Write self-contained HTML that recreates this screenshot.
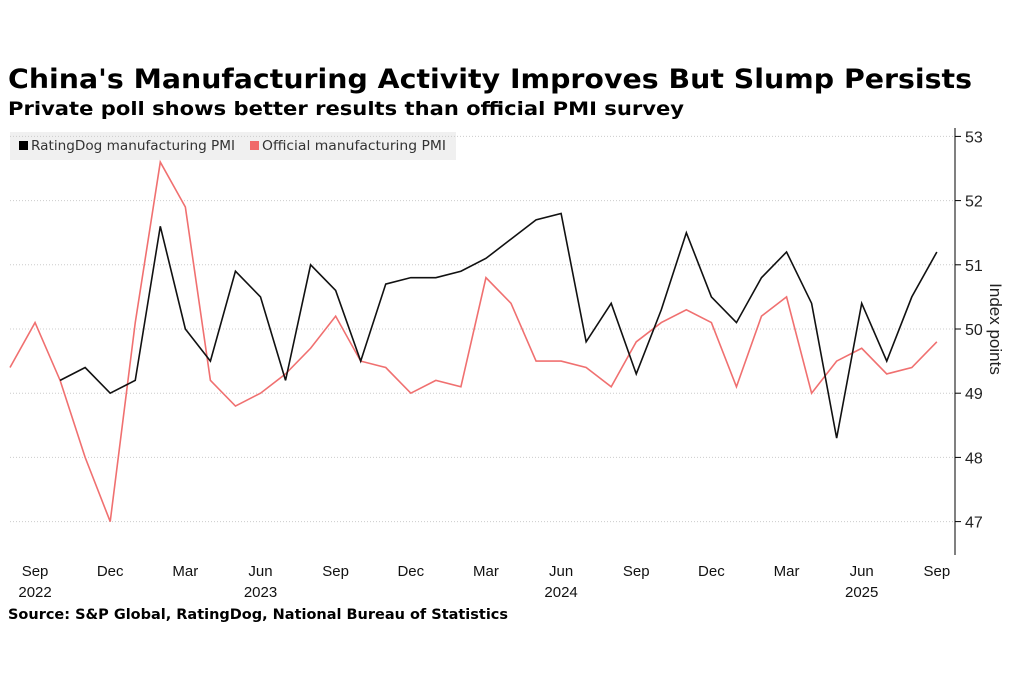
<!DOCTYPE html>
<html><head><meta charset="utf-8"><style>
body{margin:0;background:#fff;width:1024px;height:683px;overflow:hidden;font-family:"Liberation Sans",sans-serif}
</style></head><body>
<svg id="s" width="1024" height="683" xmlns="http://www.w3.org/2000/svg" font-family="Liberation Sans, sans-serif">
<text x="8" y="88" font-size="27" font-weight="bold" fill="#000" font-family="DejaVu Sans, sans-serif" textLength="964" lengthAdjust="spacingAndGlyphs">China's Manufacturing Activity Improves But Slump Persists</text>
<text x="8" y="115" font-size="19" font-weight="bold" fill="#000" font-family="DejaVu Sans, sans-serif" textLength="676" lengthAdjust="spacingAndGlyphs">Private poll shows better results than official PMI survey</text>
<rect x="10" y="132" width="446" height="28" fill="#f0f0f0"/>
<rect x="19" y="141" width="9" height="9" fill="#000"/>
<text x="31" y="150" font-size="13" fill="#333" font-family="DejaVu Sans, sans-serif" textLength="204" lengthAdjust="spacingAndGlyphs">RatingDog manufacturing PMI</text>
<rect x="250" y="141" width="9" height="9" fill="#f06a6a"/>
<text x="262" y="150" font-size="13" fill="#333" font-family="DejaVu Sans, sans-serif" textLength="184" lengthAdjust="spacingAndGlyphs">Official manufacturing PMI</text>
<g id="grid"></g>
<line x1="955" y1="128" x2="955" y2="555" stroke="#000" stroke-width="1"/>
<text transform="translate(990,329) rotate(90)" text-anchor="middle" font-size="17" fill="#222">Index points</text>
<g id="xl" font-size="15" fill="#111" text-anchor="middle"></g>
<polyline id="off" fill="none" stroke="#f07070" stroke-width="1.6"/>
<polyline id="rd" fill="none" stroke="#111" stroke-width="1.6"/>
<text x="8" y="619" font-size="14" font-weight="bold" fill="#000" font-family="DejaVu Sans, sans-serif" textLength="500" lengthAdjust="spacingAndGlyphs">Source: S&amp;P Global, RatingDog, National Bureau of Statistics</text>
</svg>
<script>
const Y=v=>329-(v-50)*64.2, X=i=>10+25.05*i;
const ns="http://www.w3.org/2000/svg";
const g=document.getElementById('grid');
for(let v=47;v<=53;v++){
 const l=document.createElementNS(ns,'line');
 l.setAttribute('x1',10);l.setAttribute('x2',955);l.setAttribute('y1',Y(v));l.setAttribute('y2',Y(v));
 l.setAttribute('stroke','#ccc');l.setAttribute('stroke-dasharray','1,2');g.appendChild(l);
 const t=document.createElementNS(ns,'line');
 t.setAttribute('x1',955);t.setAttribute('x2',961);t.setAttribute('y1',Y(v));t.setAttribute('y2',Y(v));t.setAttribute('stroke','#000');g.appendChild(t);
 const tx=document.createElementNS(ns,'text');tx.setAttribute('x',965);tx.setAttribute('y',Y(v)+6);tx.setAttribute('font-size','16');tx.setAttribute('fill','#222');tx.textContent=v;g.appendChild(tx);
}
const xl=document.getElementById('xl');
const labs=["Sep","Dec","Mar","Jun","Sep","Dec","Mar","Jun","Sep","Dec","Mar","Jun","Sep"];
const yrs={0:"2022",3:"2023",7:"2024",11:"2025"};
labs.forEach((s,k)=>{const x=X(1+3*k);
 const t=document.createElementNS(ns,'text');t.setAttribute('x',x);t.setAttribute('y',576);t.textContent=s;xl.appendChild(t);
 if(yrs[k]){const t2=document.createElementNS(ns,'text');t2.setAttribute('x',x);t2.setAttribute('y',597);t2.textContent=yrs[k];xl.appendChild(t2);}
});
const off=[49.4,50.1,49.2,48.0,47.0,50.1,52.6,51.9,49.2,48.8,49.0,49.3,49.7,50.2,49.5,49.4,49.0,49.2,49.1,50.8,50.4,49.5,49.5,49.4,49.1,49.8,50.1,50.3,50.1,49.1,50.2,50.5,49.0,49.5,49.7,49.3,49.4,49.8];
const rd=[49.2,49.4,49.0,49.2,51.6,50.0,49.5,50.9,50.5,49.2,51.0,50.6,49.5,50.7,50.8,50.8,50.9,51.1,51.4,51.7,51.8,49.8,50.4,49.3,50.3,51.5,50.5,50.1,50.8,51.2,50.4,48.3,50.4,49.5,50.5,51.2];
document.getElementById('off').setAttribute('points',off.map((v,i)=>X(i)+','+Y(v)).join(' '));
document.getElementById('rd').setAttribute('points',rd.map((v,i)=>X(i+2)+','+Y(v)).join(' '));
</script>
</body></html>
